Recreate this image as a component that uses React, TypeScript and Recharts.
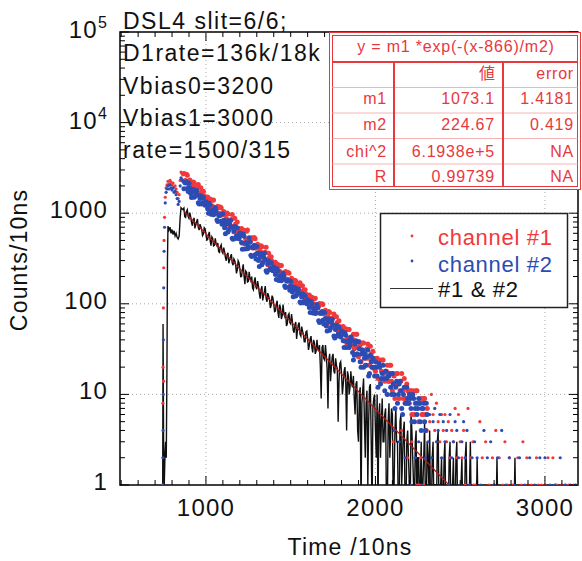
import React from "react";
import {
  ComposedChart,
  Line,
  Scatter,
  XAxis,
  YAxis,
  ReferenceLine,
  ReferenceArea,
} from "recharts";

const W = 582;
const H = 561;
const MARGIN = { top: 32, right: 4, bottom: 0, left: 0 };
const Y_AXIS_W = 120;
const X_AXIS_H = 76;
const PLOT_TOP = MARGIN.top;
const PLOT_RIGHT = W - MARGIN.right;

const FONT = '"Liberation Sans", Arial, Helvetica, sans-serif';
const RED = "#f0393b";
const BLUE = "#2b4cb4";
const FIT_RED = "#b41a1a";
const TABLE_RED = "#e8383d";

// axes
const X_DOMAIN: [number, number] = [493, 3195];
const Y_DOMAIN: [number, number] = [1, 100000];
const xMajorTicks = [1000, 2000, 3000];
const xMinorTicks = [500, 600, 700, 800, 900, 1100, 1200, 1300, 1400, 1500, 1600, 1700, 1800, 1900, 2100, 2200, 2300, 2400, 2500, 2600, 2700, 2800, 2900, 3100];
const yMajorTicks = [1, 10, 100, 1000, 10000, 100000];
const yMinorMult = [2, 3, 4, 5, 6, 7, 8, 9];

// text
const infoLines = ["DSL4 slit=6/6;", "D1rate=136k/18k", "Vbias0=3200", "Vbias1=3000", "rate=1500/315"];
const fitTitle = "y = m1 *exp(-(x-866)/m2)";
const fitRowNames = ["m1", "m2", "chi^2", "R"];
const fitValues = ["1073.1", "224.67", "6.1938e+5", "0.99739"];
const fitErrors = ["1.4181", "0.419", "NA", "NA"];

// decay part of every series: one array read at 870, 880, ... and one at 875, 885, ...
const DECAY_X0 = 870;
const DECAY_STEP = 10;

// channel #1
const ch1RiseX = [744, 746, 747, 749, 750, 751, 753, 756, 760, 765, 770, 776, 782, 788, 794, 800, 806, 812, 818, 824, 830, 836, 842, 848, 853, 858, 863];
const ch1RiseY = [1, 8, 20, 90, 14, 250, 500, 900, 1500, 1900, 2050, 2250, 2100, 2300, 2200, 2050, 2150, 1950, 2000, 1850, 1700, 1450, 1600, 2300, 2850, 2750, 2650];
const ch1Decay = [
  2745, 2291, 2629, 1988, 2200, 2025, 2166, 1658, 1915, 1666,
  1909, 1468, 1556, 1330, 1511, 1411, 1123, 1389, 1161, 1146,
  1193, 995, 1143, 821, 968, 874, 980, 680, 853, 711,
  878, 614, 681, 553, 677, 625, 458, 632, 499, 498,
  537, 422, 523, 357, 421, 380, 426, 296, 371, 309,
  362, 275, 294, 249, 287, 268, 208, 263, 219, 217,
  227, 187, 217, 161, 181, 166, 179, 134, 158, 137,
  158, 119, 128, 108, 125, 116, 91, 114, 94, 94,
  101, 80, 98, 67, 80, 72, 80, 55, 70, 58,
  72, 50, 56, 45, 56, 51, 37, 52, 41, 41,
  46, 33, 46, 26, 35, 31, 37, 21, 32, 25,
  34, 20, 25, 18, 25, 23, 14, 24, 17, 18,
  21, 14, 21, 11, 16, 13, 17, 9, 14, 11,
  15, 9, 11, 8, 11, 10, 6, 11, 8, 8,
  9, 6, 9, 4,
];
const ch1DecayMid = [
  2281, 2688, 2205, 2326, 1804, 2207, 1928, 1733, 2069, 1516,
  1711, 1746, 1361, 1486, 1169, 1434, 1210, 1401, 1025, 1140,
  992, 1168, 958, 1044, 724, 1003, 838, 728, 968, 621,
  762, 799, 562, 657, 466, 649, 514, 651, 415, 500,
  414, 538, 411, 454, 315, 436, 364, 317, 421, 270,
  324, 331, 255, 281, 217, 272, 228, 265, 191, 216,
  187, 222, 181, 191, 146, 182, 159, 142, 171, 123,
  141, 143, 110, 122, 95, 118, 100, 115, 79, 94,
  78, 100, 77, 85, 60, 82, 69, 60, 77, 52,
  62, 65, 47, 54, 39, 53, 42, 52, 35, 41,
  32, 46, 33, 38, 23, 37, 30, 25, 36, 21,
  28, 30, 19, 24, 15, 24, 18, 24, 14, 18,
  14, 21, 14, 17, 9, 17, 13, 11, 17, 9,
  12, 13, 8, 11, 6, 11, 8, 11, 5, 8,
  6, 9, 6, 7,
];
const ch1TailX = [2105, 2155, 2190, 2215, 2245, 2260, 2265, 2285, 2310, 2320, 2330, 2340, 2350, 2360, 2370, 2380, 2390, 2400, 2410, 2420, 2430, 2440, 2450, 2460, 2470, 2480, 2490, 2500, 2510, 2520, 2530, 2546, 2560, 2575, 2580, 2590, 2616, 2630, 2650, 2670, 2690, 2700, 2710, 2730, 2750, 2764, 2780, 2790, 2810, 2840, 2860, 2870, 2893, 2900, 2920, 2950, 2960, 2980, 3000, 3018, 3047, 3060, 3070, 3100, 3120, 3140, 3170, 3190];
const ch1TailY = [3, 4, 2, 3, 1, 1, 2, 1, 7, 5, 10, 6, 4, 8, 5, 3, 6, 4, 6, 3, 5, 2, 4, 3, 7, 2, 6, 3, 2, 4, 1, 7, 2, 3, 1, 1, 5, 2, 3, 1, 2, 1, 4, 2, 1, 3, 1, 2, 1, 2, 1, 3, 2, 1, 1, 2, 1, 1, 1, 2, 2, 1, 1, 1, 1, 1, 1, 1];

// channel #2
const ch2RiseX = [745, 746, 747, 748, 749, 751, 753, 756, 760, 765, 770, 776, 782, 788, 794, 800, 806, 812, 818, 824, 830, 836, 842, 848, 853, 858, 863];
const ch2RiseY = [1, 2, 4, 10, 40, 150, 380, 700, 1300, 1700, 1850, 2000, 1850, 2050, 1900, 1800, 1900, 1700, 1750, 1600, 1450, 1250, 1350, 2000, 2450, 2350, 2250];
const ch2Decay = [
  1865, 2153, 1873, 2145, 1650, 1749, 1496, 1701, 1587, 1263,
  1561, 1305, 1289, 1342, 1120, 1285, 971, 1076, 990, 1059,
  811, 935, 814, 987, 690, 764, 622, 761, 702, 515,
  711, 561, 560, 604, 475, 589, 402, 473, 428, 478,
  333, 416, 348, 428, 301, 332, 270, 331, 306, 223,
  297, 246, 244, 255, 211, 244, 181, 203, 187, 201,
  151, 177, 153, 177, 135, 144, 122, 140, 131, 102,
  129, 107, 106, 111, 91, 106, 79, 89, 80, 90,
  62, 79, 66, 80, 57, 63, 51, 63, 58, 42,
  58, 46, 46, 50, 39, 48, 33, 39, 35, 39,
  24, 36, 28, 38, 23, 28, 20, 28, 26, 16,
  27, 20, 20, 23, 16, 22, 13, 17, 15, 18,
  10, 16, 12, 17, 10, 12, 8, 13, 11, 6,
  12, 8, 9, 10, 7, 10, 5, 8, 7, 8,
  4, 7, 5, 8,
];
const ch2DecayMid = [
  2180, 2224, 1734, 1894, 1489, 1827, 1542, 1786, 1306, 1452,
  1263, 1489, 1222, 1289, 999, 1222, 1067, 959, 1147, 840,
  948, 965, 753, 837, 592, 824, 655, 830, 530, 637,
  526, 687, 522, 578, 401, 557, 465, 404, 535, 344,
  423, 443, 312, 364, 258, 358, 283, 361, 231, 276,
  237, 283, 231, 245, 185, 231, 202, 180, 218, 157,
  180, 182, 141, 156, 120, 151, 126, 146, 105, 119,
  103, 123, 100, 107, 80, 100, 88, 78, 98, 65,
  79, 82, 60, 69, 50, 68, 54, 67, 44, 52,
  44, 55, 43, 47, 33, 45, 38, 33, 43, 29,
  27, 39, 28, 32, 20, 31, 25, 21, 31, 17,
  23, 25, 16, 20, 12, 20, 15, 21, 11, 15,
  16, 17, 10, 13, 7, 14, 10, 14, 7, 10,
  8, 12, 8, 9, 5, 9, 7, 6, 9, 5,
  7, 8, 4, 6,
];
const ch2TailX = [2110, 2140, 2175, 2205, 2235, 2255, 2275, 2295, 2310, 2320, 2330, 2340, 2350, 2360, 2370, 2380, 2390, 2400, 2410, 2420, 2430, 2440, 2450, 2460, 2470, 2480, 2490, 2500, 2510, 2520, 2530, 2540, 2555, 2570, 2585, 2600, 2620, 2640, 2660, 2680, 2700, 2720, 2745, 2770, 2790, 2820, 2850, 2880, 2910, 2940, 2970, 3000, 3030, 3060, 3090, 3120, 3150, 3180];
const ch2TailY = [4, 3, 2, 1, 2, 3, 1, 2, 3, 6, 2, 5, 7, 3, 4, 6, 2, 5, 3, 4, 1, 6, 2, 3, 5, 4, 2, 1, 3, 5, 2, 4, 1, 2, 3, 2, 1, 4, 2, 3, 1, 2, 4, 1, 2, 1, 2, 1, 2, 1, 2, 2, 1, 1, 2, 1, 1, 1];

// #1 & #2 (0 = no counts)
const bothRiseX = [738, 744, 745, 747, 750, 754, 758, 762, 766, 770, 773, 776, 782, 788, 794, 800, 806, 812, 818, 824, 830, 836, 842, 848, 853, 858, 863];
const bothRiseY = [0, 0, 1, 60, 3, 1, 2, 3, 2, 20, 300, 720, 650, 700, 600, 660, 580, 640, 560, 600, 540, 520, 560, 900, 1150, 1120, 1100];
const bothDecay = [
  1140, 899, 1092, 878, 910, 727, 887, 748, 861, 651,
  709, 566, 690, 591, 512, 622, 438, 527, 443, 461,
  468, 369, 448, 361, 374, 299, 365, 307, 353, 267,
  298, 217, 298, 243, 200, 273, 165, 223, 177, 190,
  200, 143, 196, 145, 157, 114, 157, 124, 157, 105,
  122, 90, 123, 100, 83, 108, 70, 90, 74, 78,
  81, 60, 78, 60, 64, 48, 63, 51, 62, 44,
  50, 38, 49, 41, 35, 44, 29, 37, 30, 32,
  35, 9, 35, 24, 27, 7, 28, 20, 28, 17,
  21, 5, 22, 17, 13, 20, 4, 16, 12, 13,
  16, 6, 14, 3, 12, 8, 15, 2, 11, 5,
  13, 0, 9, 4, 10, 6, 2, 9, 3, 7,
  0, 8, 4, 6, 1, 7, 3, 0, 6, 2,
  5, 0, 4, 1, 6, 2, 0, 4, 2, 0,
  3, 1, 5, 0, 2, 4, 0, 3, 1, 0,
  4, 0, 2, 0, 3, 1, 0, 3, 0, 2,
  0, 3, 0, 1, 2, 0, 2, 0, 0, 3,
  0,
];
const bothDecayMid = [
  916, 1041, 917, 1016, 791, 837, 679, 808, 692, 758,
  661, 588, 672, 505, 576, 499, 549, 437, 528, 437,
  376, 428, 376, 418, 324, 344, 280, 332, 284, 312,
  272, 237, 284, 199, 239, 201, 230, 174, 225, 179,
  149, 178, 153, 178, 130, 143, 109, 138, 115, 131,
  111, 97, 117, 82, 99, 80, 98, 68, 98, 73,
  57, 75, 62, 77, 51, 59, 41, 59, 46, 56,
  46, 38, 50, 31, 41, 33, 40, 28, 40, 30,
  20, 33, 25, 35, 19, 24, 14, 26, 18, 25,
  19, 14, 23, 10, 18, 13, 18, 10, 18, 12,
  9, 13, 4, 10, 0, 11, 5, 8, 1, 12,
  3, 7, 10, 2, 0, 8, 5, 3, 6, 0,
  5, 2, 7, 0, 4, 3, 0, 5, 1, 4,
  0, 3, 2, 0, 4, 1, 3, 0, 2, 1,
  0, 2, 0, 3, 1, 0, 2, 0, 1, 3,
  0, 1, 0, 2, 0, 0, 2, 0, 1, 0,
  2, 0, 0, 1, 0, 0, 3, 0, 1, 0,
  0,
];
const bothTailX = [2580, 2595, 2600, 2605, 2625, 2630, 2640, 2712, 2717, 2722, 2818, 2823, 2828, 3195];
const bothTailY = [0, 0, 2, 0, 0, 1, 0, 0, 2, 0, 0, 2, 0, 0];

// fit y = m1*exp(-(x-866)/m2), drawn from x0 down to where it meets 1
const fitLineX = [866, 2434];
const fitLineY = [1073.1, 1];

const ZERO_FLOOR = 0.5; // zero counts sit under the log axis and get clipped

type Pt = { x: number; y: number };

const toPoints = (xs: number[], ys: number[]): Pt[] => xs.map((x, i) => ({ x, y: ys[i] }));
const decayPoints = (ys: number[], offset = 0): Pt[] =>
  ys.map((y, i) => ({ x: DECAY_X0 + offset + i * DECAY_STEP, y }));

const ch1Band = [...decayPoints(ch1Decay), ...decayPoints(ch1DecayMid, DECAY_STEP / 2)];
const ch1Edge = [...toPoints(ch1RiseX, ch1RiseY), ...toPoints(ch1TailX, ch1TailY)];
const ch2Band = [...decayPoints(ch2Decay), ...decayPoints(ch2DecayMid, DECAY_STEP / 2)];
const ch2Edge = [...toPoints(ch2RiseX, ch2RiseY), ...toPoints(ch2TailX, ch2TailY)];
const bothPoints = [
  ...toPoints(bothRiseX, bothRiseY),
  ...decayPoints(bothDecay),
  ...decayPoints(bothDecayMid, DECAY_STEP / 2),
  ...toPoints(bothTailX, bothTailY),
]
  .sort((a, b) => a.x - b.x)
  .map((p) => ({ x: p.x, y: p.y > 0 ? p.y : ZERO_FLOOR }));
const fitPoints = toPoints(fitLineX, fitLineY);

const xTicks = [...xMinorTicks, ...xMajorTicks].sort((a, b) => a - b);
const yTicks = [
  ...yMajorTicks,
  ...yMajorTicks.slice(0, -1).flatMap((d) => yMinorMult.map((m) => m * d)),
].sort((a, b) => a - b);

const XTick = (props: any) => {
  const { x, y, payload } = props;
  const v = payload.value as number;
  const major = xMajorTicks.includes(v);
  const len = major ? 9 : 5;
  return (
    <g>
      <line x1={x} y1={y} x2={x} y2={y - len} stroke="#000" strokeWidth={1} />
      <line x1={x} y1={PLOT_TOP} x2={x} y2={PLOT_TOP + len} stroke="#000" strokeWidth={1} />
      {major && (
        <text x={x} y={y + 31} textAnchor="middle" fontSize={24} fontFamily={FONT} letterSpacing={1.2} fill="#111">
          {v}
        </text>
      )}
    </g>
  );
};

const YTick = (props: any) => {
  const { x, y, payload } = props;
  const v = payload.value as number;
  const lg = Math.log10(v);
  const exp = Math.round(lg);
  const major = Math.abs(lg - exp) < 1e-9;
  const len = major ? 9 : 5;
  return (
    <g>
      <line x1={x} y1={y} x2={x + len} y2={y} stroke="#000" strokeWidth={1} />
      <line x1={PLOT_RIGHT} y1={y} x2={PLOT_RIGHT - len} y2={y} stroke="#000" strokeWidth={1} />
      {major && v < 10000 && (
        <text x={x - 12} y={y + 5} textAnchor="end" fontSize={24} fontFamily={FONT} letterSpacing={1.2} fill="#111">
          {v}
        </text>
      )}
      {major && v >= 10000 && (
        <text x={x - 12} y={y + 6} textAnchor="end" fontSize={24} fontFamily={FONT} letterSpacing={1.2} fill="#111">
          10
          <tspan dy={-10} fontSize={16}>
            {exp}
          </tspan>
        </text>
      )}
    </g>
  );
};

const dot = (color: string, r: number) => (p: any) => <circle cx={p.cx} cy={p.cy} r={r} fill={color} />;

function FitTable() {
  const left = 329.5;
  const top = 32.5;
  const w = 251;
  const h = 157;
  const headerBottom = 62;
  const rowLines = [87.5, 113, 138.5, 164];
  const baselines = [104, 130, 156.5, 181.5];
  const txt = { fontSize: 16, fontFamily: FONT, letterSpacing: 0.8, fill: TABLE_RED } as const;
  return (
    <g>
      <rect x={left} y={top} width={w} height={h} fill="#fff" stroke={TABLE_RED} strokeWidth={1} />
      <rect x={left + 3} y={top + 3} width={w - 6} height={h - 6} fill="none" stroke={TABLE_RED} strokeWidth={1} />
      <line x1={left + 3} y1={headerBottom} x2={left + w - 3} y2={headerBottom} stroke={TABLE_RED} strokeWidth={2} />
      {rowLines.map((ry) => (
        <line key={ry} x1={left + 3} y1={ry} x2={left + w - 3} y2={ry} stroke="#f4b4b4" strokeWidth={1} />
      ))}
      <line x1={394} y1={headerBottom} x2={394} y2={top + h - 3} stroke={TABLE_RED} strokeWidth={2} />
      <line x1={503} y1={headerBottom} x2={503} y2={top + h - 3} stroke={TABLE_RED} strokeWidth={2} />
      <text x={456} y={52} textAnchor="middle" {...txt}>
        {fitTitle}
      </text>
      <text x={495} y={79} textAnchor="end" {...txt} fontFamily='"Noto Sans CJK JP", sans-serif' letterSpacing={0}>
        値
      </text>
      <text x={574} y={79} textAnchor="end" {...txt}>
        error
      </text>
      {fitRowNames.map((n, i) => (
        <g key={n}>
          <text x={387} y={baselines[i]} textAnchor="end" {...txt}>
            {n}
          </text>
          <text x={495} y={baselines[i]} textAnchor="end" {...txt}>
            {fitValues[i]}
          </text>
          <text x={574} y={baselines[i]} textAnchor="end" {...txt}>
            {fitErrors[i]}
          </text>
        </g>
      ))}
    </g>
  );
}

function LegendBox() {
  const txt = { fontSize: 22, fontFamily: FONT, letterSpacing: 0.7 } as const;
  return (
    <g>
      <rect x={380.5} y={213.5} width={187} height={94} fill="#fff" stroke="#222" strokeWidth={1.5} />
      <circle cx={412} cy={236} r={1.4} fill={RED} />
      <text x={438} y={245} fill={RED} {...txt}>
        channel #1
      </text>
      <circle cx={412} cy={261} r={1.4} fill={BLUE} />
      <text x={438} y={271.5} fill={BLUE} {...txt}>
        channel #2
      </text>
      <line x1={390} y1={288.5} x2={433} y2={288.5} stroke="#333" strokeWidth={1} />
      <text x={438} y={297} fill="#111" {...txt}>
        {"#1 & #2"}
      </text>
    </g>
  );
}

export default function App() {
  return (
    <div style={{ position: "absolute", left: 0, top: 0, width: W, height: H, background: "#fff" }}>
      <ComposedChart width={W} height={H} margin={MARGIN}>
        <XAxis
          type="number"
          dataKey="x"
          domain={X_DOMAIN}
          allowDataOverflow
          ticks={xTicks}
          interval={0}
          height={X_AXIS_H}
          tickSize={0}
          tickMargin={0}
          tickLine={false}
          axisLine={false}
          tick={<XTick />}
        />
        <YAxis
          type="number"
          dataKey="y"
          scale="log"
          domain={Y_DOMAIN}
          allowDataOverflow
          ticks={yTicks}
          interval={0}
          width={Y_AXIS_W}
          tickSize={0}
          tickMargin={0}
          tickLine={false}
          axisLine={false}
          tick={<YTick />}
        />
        {xMajorTicks.map((v) => (
          <ReferenceLine key={`gx${v}`} x={v} stroke="#a8a8a8" strokeDasharray="1 3" />
        ))}
        {yMajorTicks.slice(1, -1).map((v) => (
          <ReferenceLine key={`gy${v}`} y={v} stroke="#a8a8a8" strokeDasharray="1 3" />
        ))}
        <Line
          data={bothPoints}
          dataKey="y"
          type="linear"
          stroke="#101010"
          strokeWidth={1.4}
          dot={false}
          isAnimationActive={false}
        />
        <Scatter data={ch1Band} dataKey="y" fill={RED} shape={dot(RED, 2.5)} isAnimationActive={false} />
        <Scatter data={ch1Edge} dataKey="y" fill={RED} shape={dot(RED, 1.6)} isAnimationActive={false} />
        <Scatter data={ch2Band} dataKey="y" fill={BLUE} shape={dot(BLUE, 2.5)} isAnimationActive={false} />
        <Scatter data={ch2Edge} dataKey="y" fill={BLUE} shape={dot(BLUE, 1.6)} isAnimationActive={false} />
        <Line
          data={fitPoints}
          dataKey="y"
          type="linear"
          stroke={FIT_RED}
          strokeWidth={1.2}
          dot={false}
          isAnimationActive={false}
        />
        <ReferenceArea
          x1={X_DOMAIN[0]}
          x2={X_DOMAIN[1]}
          y1={Y_DOMAIN[0]}
          y2={Y_DOMAIN[1]}
          fill="none"
          fillOpacity={0}
          stroke="#000"
          strokeWidth={1.5}
          ifOverflow="visible"
        />
      </ComposedChart>
      <svg width={W} height={H} style={{ position: "absolute", left: 0, top: 0, pointerEvents: "none" }}>
        {infoLines.map((t, i) => (
          <text key={t} x={123} y={29 + i * 32.3} fontSize={23} fontFamily={FONT} letterSpacing={1.5} fill="#111">
            {t}
          </text>
        ))}
        <FitTable />
        <LegendBox />
        <text
          transform="translate(27, 260) rotate(-90)"
          textAnchor="middle"
          fontSize={23}
          fontFamily={FONT}
          letterSpacing={1.2}
          fill="#111"
        >
          Counts/10ns
        </text>
        <text x={350} y={555} textAnchor="middle" fontSize={23} fontFamily={FONT} letterSpacing={1.2} fill="#111">
          Time /10ns
        </text>
      </svg>
    </div>
  );
}
